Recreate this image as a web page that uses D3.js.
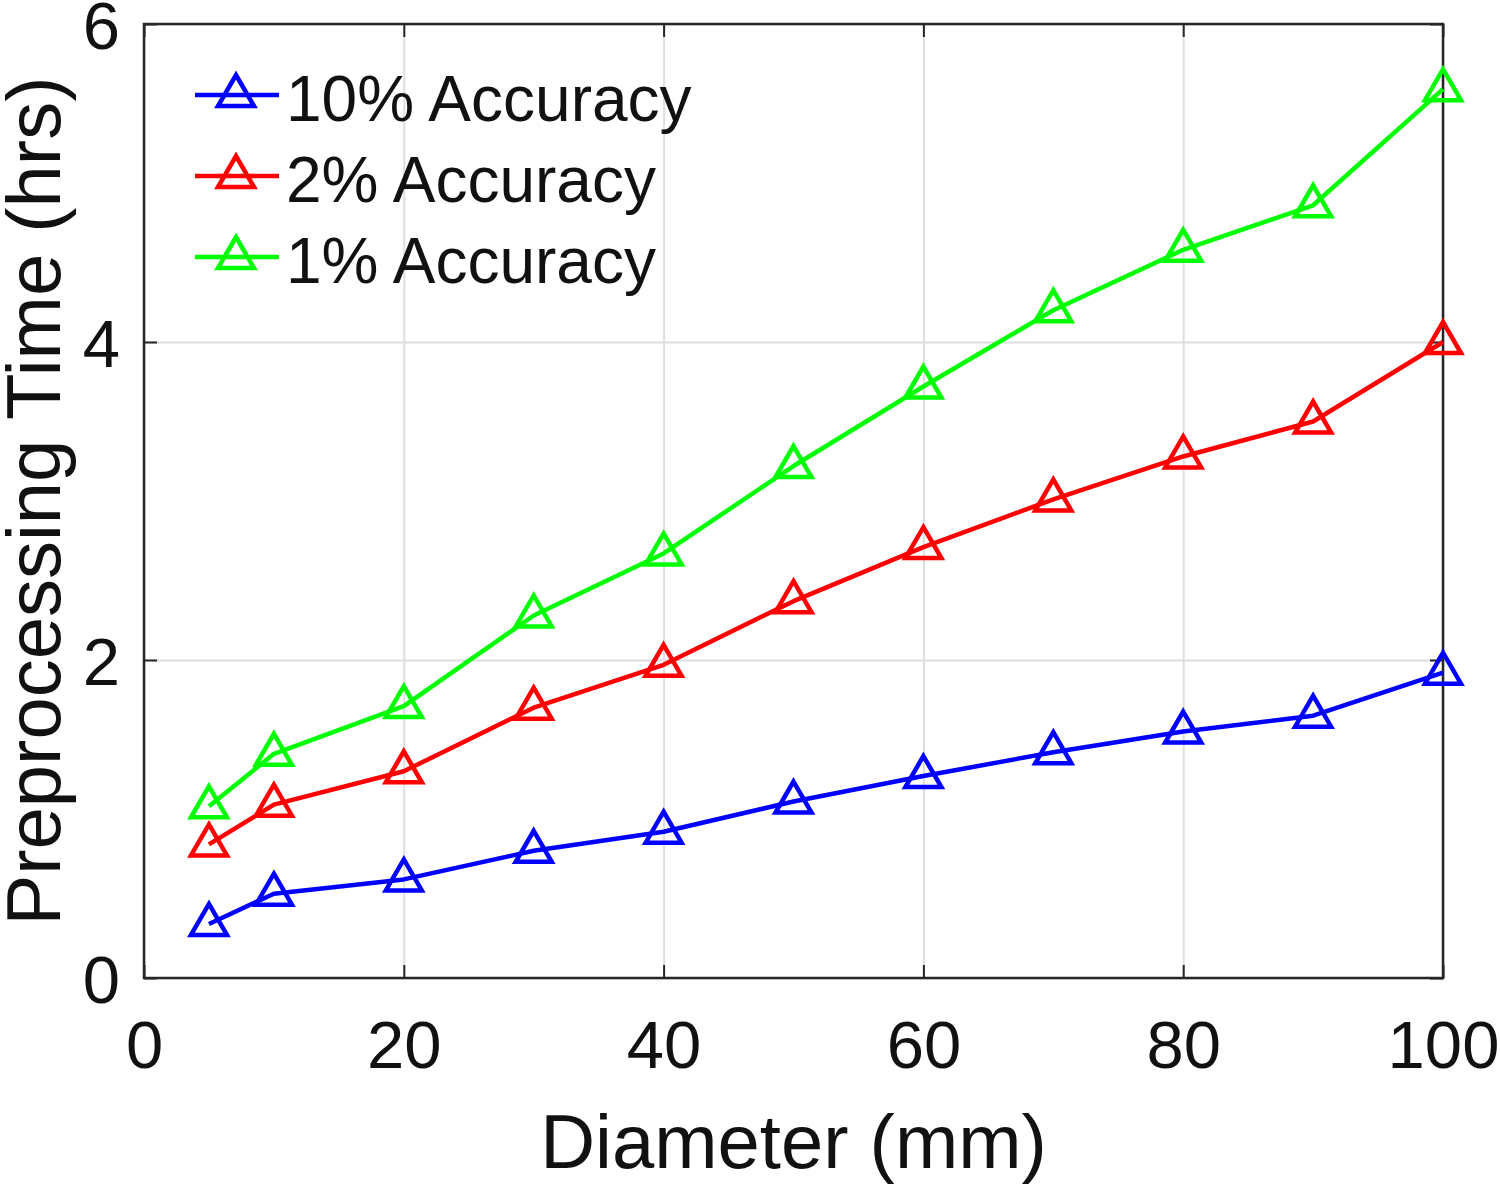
<!DOCTYPE html>
<html lang="en">
  <head>
    <meta charset="utf-8">
    <title>Preprocessing Time</title>
    <script src="https://cdn.jsdelivr.net/npm/d3@7"></script>
    <style type="text/css">
      body {
        margin: 0;
        background: #fff;
      }
      text {
        font-family: "Liberation Sans", Arial, sans-serif;
        fill: #111;
      }
      .grid line {
        stroke: #dedede;
        stroke-width: 2;
      }
      .grid path {
        stroke: none;
      }
      .axis path {
        stroke: none;
      }
      .axis line {
        stroke: #262626;
        stroke-width: 2;
      }
      .frame {
        fill: none;
        stroke: #262626;
        stroke-width: 2.5;
      }
    </style>
  </head>
  <body>
    <script type="text/javascript">
      // diameter (mm)
      var diameters = [5, 10, 20, 30, 40, 50, 60, 70, 80, 90, 100];

      // preprocessing time (hrs) for each accuracy level
      var acc10 = [0.34, 0.53, 0.62, 0.80, 0.92, 1.11, 1.27, 1.42, 1.55, 1.65, 1.92];
      var acc2 = [0.84, 1.09, 1.30, 1.70, 1.97, 2.37, 2.71, 3.01, 3.28, 3.50, 4.00];
      var acc1 = [1.08, 1.41, 1.71, 2.28, 2.67, 3.22, 3.72, 4.20, 4.58, 4.86, 5.59];

      var seriesNames = ["10% Accuracy", "2% Accuracy", "1% Accuracy"];
      var seriesColors = ["#0000ff", "#ff0000", "#00ff00"];

      var xTicks = [0, 20, 40, 60, 80, 100];
      var yTicks = [0, 2, 4, 6];

      var width = 1500,
          height = 1185,
          margin = {left: 144, top: 24, right: 57, bottom: 207};

      var w = width - margin.left - margin.right,
          h = height - margin.top - margin.bottom;

      var series = [acc10, acc2, acc1].map(function(vals, i) {
        return {
          name: seriesNames[i],
          color: seriesColors[i],
          points: vals.map(function(v, j) { return {x: diameters[j], y: v}; })
        };
      });

      var svg = d3.select("body").append("svg")
        .attr("width", width)
        .attr("height", height);

      var g = svg.append("g")
        .attr("transform", "translate(" + margin.left + "," + margin.top + ")");

      var x = d3.scaleLinear().domain([0, 100]).range([0, w]);
      var y = d3.scaleLinear().domain([0, 6]).range([h, 0]);

      // grid
      g.append("g")
        .attr("class", "grid")
        .attr("transform", "translate(0," + h + ")")
        .call(d3.axisBottom(x).tickValues(xTicks).tickSize(-h).tickFormat(""));
      g.append("g")
        .attr("class", "grid")
        .call(d3.axisLeft(y).tickValues(yTicks).tickSize(-w).tickFormat(""));

      // axes, ticks point inward
      var xAxis = g.append("g")
        .attr("class", "axis")
        .attr("transform", "translate(0," + h + ")")
        .call(d3.axisBottom(x).tickValues(xTicks).tickFormat(d3.format("d"))
          .tickSizeInner(-13).tickSizeOuter(0).tickPadding(42));
      xAxis.selectAll("text").style("font-size", "67px");

      var yAxis = g.append("g")
        .attr("class", "axis")
        .call(d3.axisLeft(y).tickValues(yTicks).tickFormat(d3.format("d"))
          .tickSizeInner(-13).tickSizeOuter(0).tickPadding(24));
      yAxis.selectAll("text").style("font-size", "67px").attr("dy", "0.37em");

      g.append("g")
        .attr("class", "axis")
        .call(d3.axisTop(x).tickValues(xTicks).tickSizeInner(-13).tickSizeOuter(0).tickFormat(""));
      g.append("g")
        .attr("class", "axis")
        .attr("transform", "translate(" + w + ",0)")
        .call(d3.axisRight(y).tickValues(yTicks).tickSizeInner(-13).tickSizeOuter(0).tickFormat(""));

      g.append("rect")
        .attr("class", "frame")
        .attr("width", w)
        .attr("height", h);

      // triangle marker, origin at the centroid
      function triangle() {
        var p = d3.path();
        p.moveTo(0, -20);
        p.lineTo(18, 11);
        p.lineTo(-18, 11);
        p.closePath();
        return p.toString();
      }

      var line = d3.line()
        .x(function(d) { return x(d.x); })
        .y(function(d) { return y(d.y); });

      var sg = g.selectAll(".series")
        .data(series)
        .enter().append("g")
        .attr("class", "series");

      sg.append("path")
        .attr("d", function(d) { return line(d.points); })
        .attr("fill", "none")
        .attr("stroke", function(d) { return d.color; })
        .attr("stroke-width", 4.5)
        .attr("stroke-linejoin", "round");

      sg.each(function(s) {
        d3.select(this).selectAll(".marker")
          .data(s.points)
          .enter().append("path")
          .attr("class", "marker")
          .attr("d", triangle())
          .attr("transform", function(d) { return "translate(" + x(d.x) + "," + y(d.y) + ")"; })
          .attr("fill", "none")
          .attr("stroke", s.color)
          .attr("stroke-width", 4.5);
      });

      // legend
      var legend = svg.selectAll(".legend")
        .data(series)
        .enter().append("g")
        .attr("class", "legend")
        .attr("transform", function(d, i) { return "translate(195," + (95 + i * 81) + ")"; });

      legend.append("line")
        .attr("x1", 0).attr("x2", 84)
        .attr("y1", 0).attr("y2", 0)
        .attr("stroke", function(d) { return d.color; })
        .attr("stroke-width", 4.5);

      legend.append("path")
        .attr("d", triangle())
        .attr("transform", "translate(41,0)")
        .attr("fill", "none")
        .attr("stroke", function(d) { return d.color; })
        .attr("stroke-width", 4.5);

      legend.append("text")
        .attr("x", 91)
        .attr("y", 0)
        .attr("dy", "0.4em")
        .style("font-size", "64px")
        .text(function(d) { return d.name; });

      // axis titles
      svg.append("text")
        .attr("x", margin.left + w / 2)
        .attr("y", 1168)
        .attr("text-anchor", "middle")
        .style("font-size", "76px")
        .text("Diameter (mm)");

      svg.append("text")
        .attr("transform", "translate(60," + (margin.top + h / 2) + ") rotate(-90)")
        .attr("text-anchor", "middle")
        .style("font-size", "76px")
        .text("Preprocessing Time (hrs)");
    </script>
  </body>
</html>
